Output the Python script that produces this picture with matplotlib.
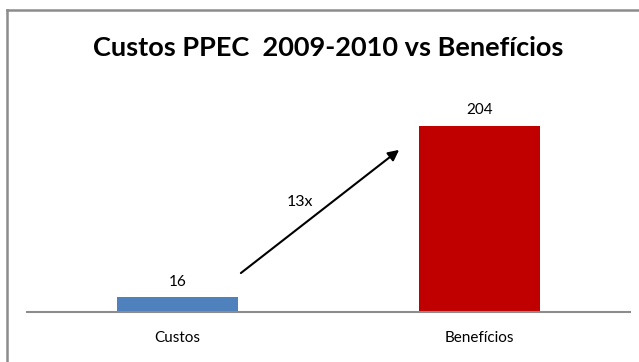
import matplotlib.pyplot as plt
from matplotlib.lines import Line2D

categories = ['Custos', 'Benefícios']
values = [16, 204]
bar_colors = ['#4F81BD', '#C00000']
title = 'Custos PPEC  2009-2010 vs Benefícios'
ratio_label = '13x'

plt.rcParams['font.family'] = ['Lato', 'DejaVu Sans']

fig = plt.figure(figsize=(6.39, 3.62), dpi=100)
ax = fig.add_axes([0.0415, 0.138, 0.945, 0.630])

x = range(len(categories))
bars = ax.bar(x, values, width=0.4, color=bar_colors)
for xi, v in zip(x, values):
    ax.text(xi, v + 13, str(v), ha='center', va='baseline', fontsize=11)

ax.set_xlim(-0.5, 1.5)
ax.set_ylim(0, 250)
ax.set_xticks(list(x))
ax.set_xticklabels(categories, fontsize=11)
ax.tick_params(axis='x', length=0, pad=14)
ax.set_yticks([])
for side in ['top', 'right', 'left']:
    ax.spines[side].set_visible(False)
ax.spines['bottom'].set_color('#8c8c8c')
ax.spines['bottom'].set_linewidth(1.5)

# arrow showing the ratio
ax.annotate('', xy=(0.617, 0.711), xytext=(0.355, 0.171),
            xycoords='axes fraction', textcoords='axes fraction',
            arrowprops=dict(arrowstyle='-|>', color='black', lw=1.5,
                            mutation_scale=16, shrinkA=0, shrinkB=0))
ax.text(0.452, 0.484, ratio_label, transform=ax.transAxes,
        ha='center', va='center', fontsize=11.5)

fig.text(0.513, 0.867, title, ha='center', va='center',
         fontsize=19.5, fontweight='bold')

# chart frame (left and top edges only visible)
fig.add_artist(Line2D([0.0117, 0.0117], [0, 0.971], color='#8c8c8c', lw=1.8,
                      transform=fig.transFigure))
fig.add_artist(Line2D([0.0117, 1.0], [0.971, 0.971], color='#8c8c8c', lw=1.8,
                      transform=fig.transFigure))

fig.savefig('out.png', dpi=100)
